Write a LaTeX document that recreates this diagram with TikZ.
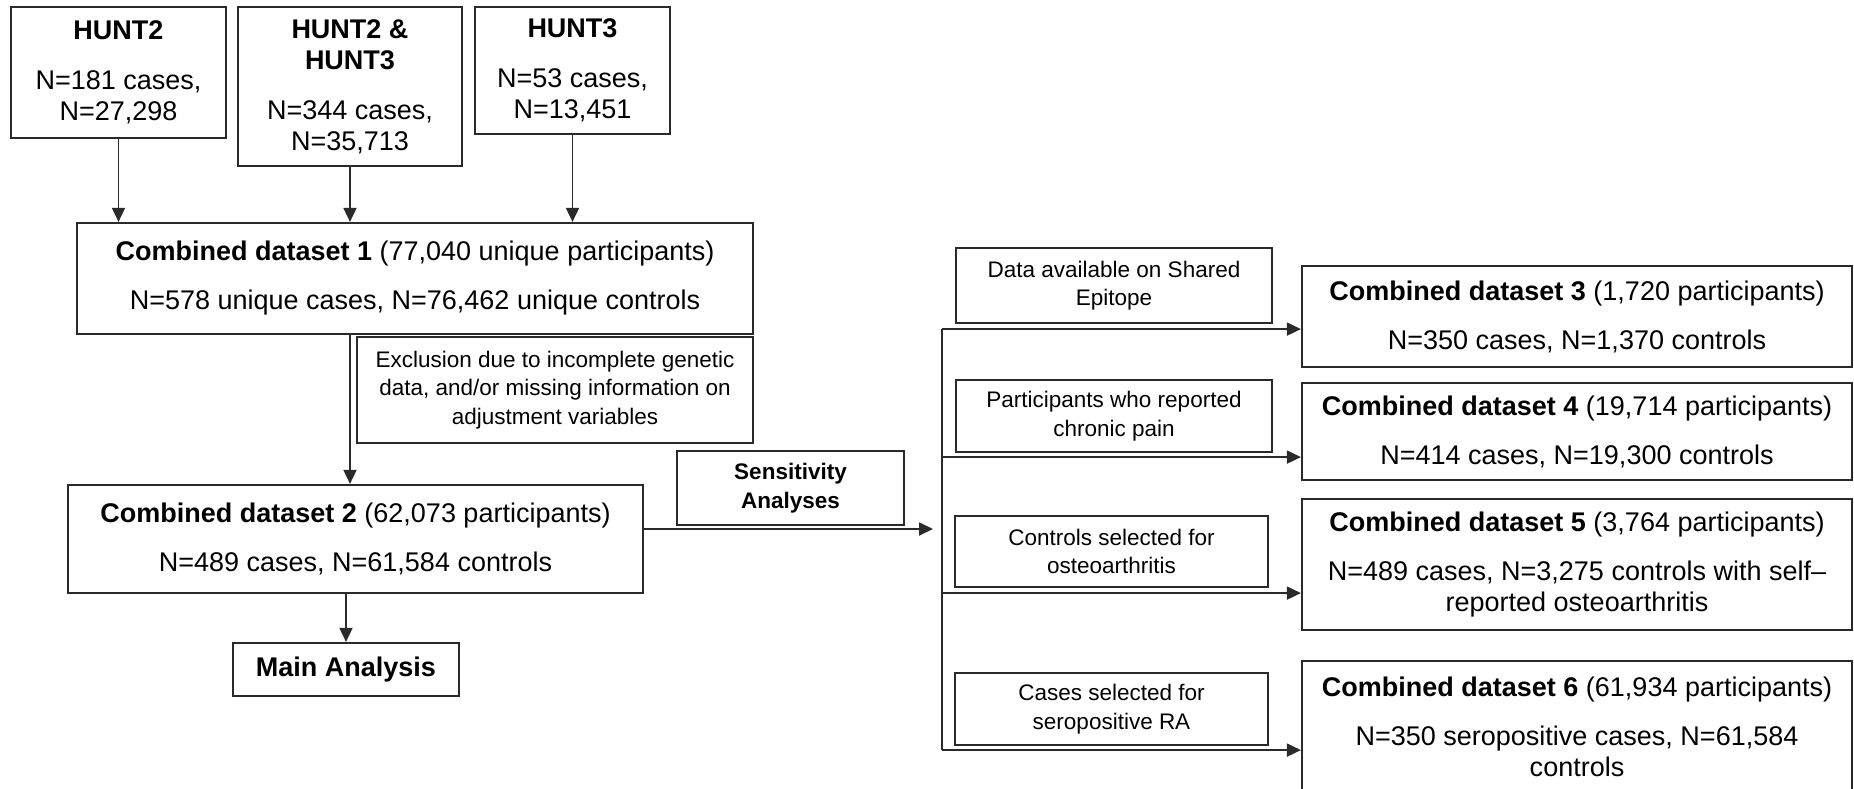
\documentclass[tikz,border=0pt]{standalone}
\usepackage{fontspec}
\setmainfont{Liberation Sans}
\usetikzlibrary{arrows.meta,positioning,calc}
\definecolor{linegray}{HTML}{2A2A2A}
\begin{document}
\begin{tikzpicture}[x=1pt,y=-1pt,
  boxbase/.style={draw=linegray,line width=2.2pt,rectangle,inner sep=0pt,align=center,text=black},
  bigbox/.style={boxbase,font=\fontsize{27}{31}\selectfont},
  smallbox/.style={boxbase,font=\fontsize{22.5}{28.5}\selectfont},
  conn/.style={draw=linegray,line width=1.8pt},
  arr/.style={conn,-{Triangle[length=14pt,width=13pt]}}
]
\useasboundingbox (0,0) rectangle (1854,789);

% top row
\node[bigbox,minimum width=215pt,minimum height=131pt] (hunt2) at (118.5,72.5)
  {\textbf{HUNT2}\\[19pt]N=181 cases,\\N=27,298};
\node[bigbox,minimum width=224pt,minimum height=159pt] (hunt23) at (350,86.5)
  {\textbf{HUNT2 \&}\\\textbf{HUNT3}\\[19pt]N=344 cases,\\N=35,713};
\node[bigbox,minimum width=195pt,minimum height=127pt] (hunt3) at (572.5,70.5)
  {\textbf{HUNT3}\\[19pt]N=53 cases,\\N=13,451};

% left column
\node[bigbox,minimum width=676pt,minimum height=111pt] (cd1) at (415,278.5)
  {\textbf{Combined dataset 1} (77,040 unique participants)\\[18pt]N=578 unique cases, N=76,462 unique controls};
\node[smallbox,minimum width=396pt,minimum height=106pt] (excl) at (555,390)
  {Exclusion due to incomplete genetic\\data, and/or missing information on\\adjustment variables};
\node[bigbox,minimum width=575pt,minimum height=108pt] (cd2) at (355.5,539)
  {\textbf{Combined dataset 2} (62,073 participants)\\[18pt]N=489 cases, N=61,584 controls};
\node[bigbox,minimum width=226pt,minimum height=53pt] (main) at (346,669.5)
  {\textbf{Main Analysis}};
\node[smallbox,minimum width=227pt,minimum height=74pt] (sens) at (790.5,488)
  {\textbf{Sensitivity}\\\textbf{Analyses}};

% right label boxes
\node[smallbox,minimum width=316pt,minimum height=75pt] (data) at (1114,285.5)
  {Data available on Shared\\Epitope};
\node[smallbox,minimum width=316pt,minimum height=72pt] (part) at (1114,416)
  {Participants who reported\\chronic pain};
\node[smallbox,minimum width=313pt,minimum height=71pt] (ctrl) at (1111.5,551.5)
  {Controls selected for\\osteoarthritis};
\node[smallbox,minimum width=313pt,minimum height=72pt] (cases) at (1111.5,709)
  {Cases selected for\\seropositive RA};

% right dataset boxes
\node[bigbox,minimum width=550pt,minimum height=101pt] (cd3) at (1577,316.5)
  {\textbf{Combined dataset 3} (1,720 participants)\\[18pt]N=350 cases, N=1,370 controls};
\node[bigbox,minimum width=550pt,minimum height=97pt] (cd4) at (1577,431.5)
  {\textbf{Combined dataset 4} (19,714 participants)\\[18pt]N=414 cases, N=19,300 controls};
\node[bigbox,minimum width=550pt,minimum height=131pt] (cd5) at (1577,564.5)
  {\textbf{Combined dataset 5} (3,764 participants)\\[18pt]N=489 cases, N=3,275 controls with self–\\reported osteoarthritis};
\node[bigbox,minimum width=550pt,minimum height=131pt] (cd6) at (1577,726.5)
  {\textbf{Combined dataset 6} (61,934 participants)\\[18pt]N=350 seropositive cases, N=61,584\\controls};

% connectors, top
\draw[arr] (hunt2.south) -- (hunt2.south |- cd1.north);
\draw[arr] (hunt23.south) -- (hunt23.south |- cd1.north);
\draw[arr] (hunt3.south) -- (hunt3.south |- cd1.north);
\draw[arr] (hunt23.south |- cd1.south) -- (hunt23.south |- cd2.north);
\draw[arr] (main.north |- cd2.south) -- (main.north);

% sensitivity branch
\coordinate (vx) at (942,0);
\coordinate (sensend) at (933,529);
\draw[arr] (cd2.east |- sensend) -- (sensend);
\coordinate (a3) at ([yshift=-5pt]data.south);
\coordinate (a4) at ([yshift=-4pt]part.south);
\coordinate (a5) at ([yshift=-5pt]ctrl.south);
\coordinate (a6) at ([yshift=-4pt]cases.south);
\draw[conn] (vx |- a3) -- (vx |- a6);
\draw[arr] (vx |- a3) -- (cd3.west |- a3);
\draw[arr] (vx |- a4) -- (cd4.west |- a4);
\draw[arr] (vx |- a5) -- (cd5.west |- a5);
\draw[arr] (vx |- a6) -- (cd6.west |- a6);
\end{tikzpicture}
\end{document}
